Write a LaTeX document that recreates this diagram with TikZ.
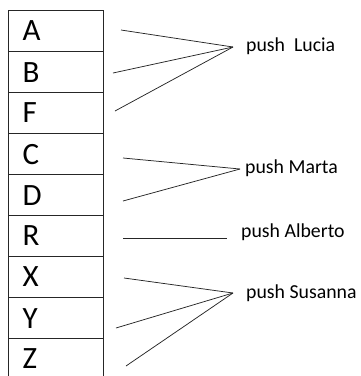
\documentclass[tikz,border=0pt]{standalone}
\usepackage{fontspec}
\setmainfont{Carlito}
\begin{document}
\begin{tikzpicture}[x=1pt,y=-1pt,
  cell/.style={draw=black!85,line width=1.1pt,rectangle,minimum width=95pt,minimum height=41pt,
    text width=67pt,inner xsep=14pt,inner ysep=0pt,align=left,anchor=north west,
    font=\fontsize{31}{31}\selectfont,text depth=0pt},
  lbl/.style={anchor=west,inner sep=0pt,font=\fontsize{19.8}{20}\selectfont},
  conn/.style={draw=black!85,line width=0.75pt}]
\useasboundingbox (0,0) rectangle (361,376);
\node[cell] (A) at (8,10) {A};
\node[cell] (B) at (8,51) {B};
\node[cell] (F) at (8,92) {F};
\node[cell] (C) at (8,133) {C};
\node[cell] (D) at (8,174) {D};
\node[cell] (R) at (8,215) {R};
\node[cell] (X) at (8,256) {X};
\node[cell] (Y) at (8,297) {Y};
\node[cell] (Z) at (8,338) {Z};
% labels
\node[lbl] (lucia) at (246,46) {push\ \ Lucia};
\node[lbl] (marta) at (245,168) {push Marta};
\node[lbl] (alberto) at (241,232) {push Alberto};
\node[lbl] (susanna) at (246,293) {push Susanna};
% free ends
\coordinate (a1) at (121,30);
\coordinate (b1) at (113,73);
\coordinate (f1) at (115,111);
\coordinate (pL) at (233,47);
\coordinate (c1) at (123,158);
\coordinate (d1) at (123,201);
\coordinate (pM) at (240,169);
\coordinate (r1) at (123,238);
\coordinate (r2) at (227,238);
\coordinate (x1) at (124,278);
\coordinate (y1) at (116,328);
\coordinate (z1) at (126,366);
\coordinate (pS) at (233,293);
\draw[conn] (a1) -- (pL);
\draw[conn] (b1) -- (pL);
\draw[conn] (f1) -- (pL);
\draw[conn] (c1) -- (pM);
\draw[conn] (d1) -- (pM);
\draw[conn] (r1) -- (r2);
\draw[conn] (x1) -- (pS);
\draw[conn] (y1) -- (pS);
\draw[conn] (z1) -- (pS);
\end{tikzpicture}
\end{document}
